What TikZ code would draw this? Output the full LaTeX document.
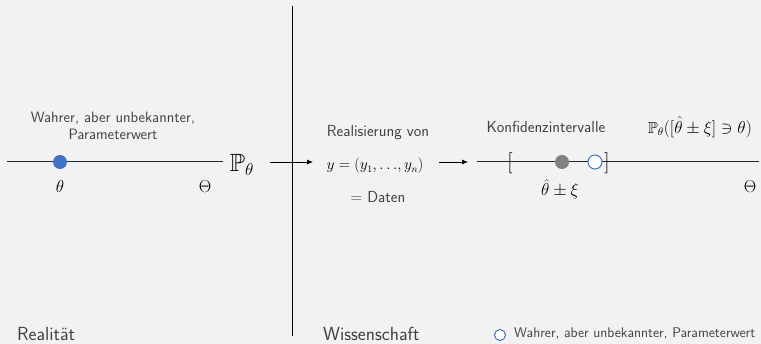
\documentclass[tikz,border=0pt]{standalone}
\usepackage{amssymb}
\usetikzlibrary{arrows.meta}
\definecolor{bg}{HTML}{F2F2F2}
\definecolor{txt}{HTML}{404040}
\definecolor{dotblue}{HTML}{4472C4}
\definecolor{dotgray}{HTML}{808080}
\begin{document}
\begin{tikzpicture}[x=1pt,y=-1pt,
  small/.style={font=\sffamily\fontsize{15}{17}\selectfont,text=txt,align=center,inner sep=0pt},
  big/.style={font=\sffamily\fontsize{19}{22}\selectfont,text=txt,inner sep=0pt},
  mth/.style={font=\fontsize{17}{20}\selectfont,text=black,inner sep=0pt},
  axis/.style={line width=1pt,draw=black!85},
  arr/.style={line width=0.7pt,-{Latex[length=6pt,width=5pt]}},
  fdot/.style={circle,inner sep=0pt,minimum size=14pt},
  odot/.style={circle,inner sep=0pt,minimum size=14pt,draw=dotblue,fill=white,line width=1pt}]
\fill[bg] (0,0) rectangle (761,344);
\useasboundingbox (0,0) rectangle (761,344);
% divider
\coordinate (vt) at (292,6);
\coordinate (vb) at (292,336);
\draw[line width=1pt] (vt) -- (vb);
% left axis
\coordinate (la) at (7,162);
\coordinate (lb) at (223,162);
\draw[axis] (la) -- (lb);
\node[fdot,fill=dotblue] (theta) at (60,162) {};
\node[mth] (thlab) at (60,187) {$\theta$};
\node[mth] (Th1) at (205,187) {$\Theta$};
\node[small] (wahr) at (113,126) {Wahrer, aber unbekannter,\\Parameterwert};
\node[font=\fontsize{25}{28}\selectfont,inner sep=0pt] (P) at (242,165) {$\mathbb{P}_\theta$};
% middle
\coordinate (a1s) at (270,162);
\coordinate (a1e) at (313,162);
\draw[arr] (a1s) -- (a1e);
\node[small,font=\sffamily\fontsize{16}{18}\selectfont] (real) at (378,133) {Realisierung von};
\node[mth,font=\fontsize{16}{19}\selectfont,scale=0.9] (y) at (375,166) {$y=(y_1,{\ldots},y_n)$};
\node[small,font=\sffamily\fontsize{16}{18}\selectfont] (daten) at (378,197) {= Daten};
\coordinate (a2s) at (439,162);
\coordinate (a2e) at (468,162);
\draw[arr] (a2s) -- (a2e);
% right axis
\coordinate (ra) at (477,162);
\coordinate (rb) at (759,162);
\draw[axis] (ra) -- (rb);
\node[mth,font=\fontsize{21}{24}\selectfont] (lbr) at (510,163) {[};
\node[mth,font=\fontsize{21}{24}\selectfont] (rbr) at (607,163) {]};
\node[fdot,fill=dotgray] (hat) at (562,162) {};
\node[odot] (true) at (595,162) {};
\node[mth] (hatlab) at (560,189) {$\hat\theta\pm\xi$};
\node[mth] (Th2) at (750,187) {$\Theta$};
\node[small,font=\sffamily\fontsize{16}{18}\selectfont] (konf) at (546,127) {Konfidenzintervalle};
\node[mth,font=\fontsize{16}{19}\selectfont] (prob) at (700,127) {$\mathbb{P}_\theta\bigl(\bigl[\hat\theta\pm\xi\bigr]\ni\theta\bigr)$};
% bottom labels
\node[big,anchor=west] (realitaet) at (17,334) {Realität};
\node[big,anchor=west] (wiss) at (323,334) {Wissenschaft};
\node[odot,minimum size=11pt] (leg) at (500,335) {};
\node[small,anchor=west,font=\sffamily\fontsize{14}{16}\selectfont] (legt) at (514,334) {Wahrer, aber unbekannter, Parameterwert};
\end{tikzpicture}
\end{document}
